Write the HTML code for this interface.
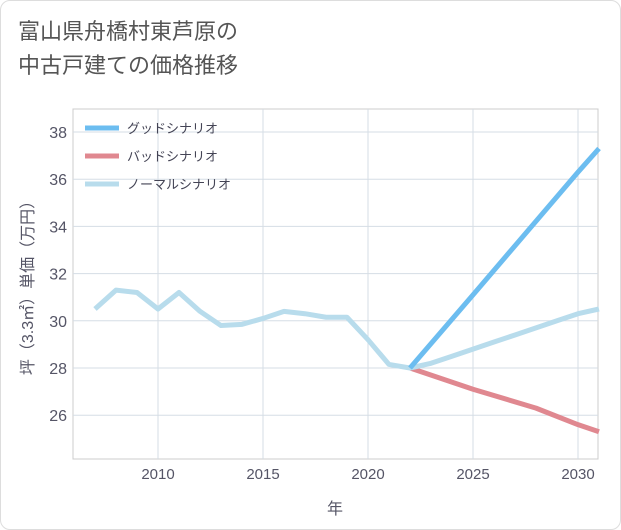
<!DOCTYPE html>
<html><head><meta charset="utf-8"><style>
body{margin:0;background:#fff;font-family:"Liberation Sans","Noto Sans CJK JP",sans-serif;}
#wrap{position:relative;width:619px;height:528px;border:1px solid #ddd;border-radius:10px;overflow:hidden;}
#title{position:absolute;left:17px;top:14px;font-size:22px;line-height:34px;color:#555;}
svg{position:absolute;left:0;top:0;}
</style></head><body>
<div id="wrap">
<div id="title">富山県舟橋村東芦原の<br>中古戸建ての価格推移</div>
<svg id="chart" width="621" height="530"></svg>
</div>
<script>
const years=[2007,2008,2009,2010,2011,2012,2013,2014,2015,2016,2017,2018,2019,2020,2021,2022,2023,2024,2025,2026,2027,2028,2029,2030,2031];
const normal=[30.5,31.3,31.2,30.5,31.2,30.4,29.8,29.85,30.1,30.4,30.3,30.15,30.15,29.2,28.15,28.0,28.2,28.5,28.8,29.1,29.4,29.7,30.0,30.3,30.5];
const goodYears=[2022,2025,2030,2031];
const good=[28.0,31.1,36.3,37.3];
const badYears=[2022,2025,2028,2030,2031];
const bad=[28.0,27.1,26.3,25.6,25.3];
const xTicks=[2010,2015,2020,2025,2030];
const yTicks=[26,28,30,32,34,36,38];
const legendLabels=["グッドシナリオ","バッドシナリオ","ノーマルシナリオ"];
const colors=["#6cbdf0","#e08890","#b8dcec"];
const L=72,R=597,T=108,B=458;
const x=v=>157+(v-2010)*21;
const y=v=>131+(38-v)*23.6;
const svg=document.getElementById('chart');
const NS='http://www.w3.org/2000/svg';
function mk(t,a){const e=document.createElementNS(NS,t);for(const k in a)e.setAttribute(k,a[k]);svg.appendChild(e);return e;}
const bg=mk('rect',{x:L,y:T,width:R-L,height:B-T,fill:'#fff',stroke:'#ccc'});


xTicks.forEach(t=>{
 const g=mk('line',{x1:x(t),x2:x(t),y1:T,y2:B,stroke:'#d5dde5'});
 
 
 const l=mk('text',{x:x(t),y:B+20,'text-anchor':'middle','font-size':15,fill:'#556'});
 l.textContent=t;
 
 
});
yTicks.forEach(t=>{
 const g=mk('line',{x1:L,x2:R,y1:y(t),y2:y(t),stroke:'#d5dde5'});
 
 
 const l=mk('text',{x:L-6,y:y(t)+6,'text-anchor':'end','font-size':16,fill:'#556'});
 l.textContent=t;
 
 
});
function line(xs,vs,c,name){
 const p=mk('polyline',{points:xs.map((v,i)=>x(v)+','+y(vs[i])).join(' '),fill:'none',stroke:c,'stroke-width':5,'stroke-linejoin':'round'});
 
 
}
line(badYears,bad,colors[1],'bad-scenario-line');
line(years,normal,colors[2],'normal-scenario-line');
line(goodYears,good,colors[0],'good-scenario-line');
legendLabels.forEach((s,i)=>{
 const ly=127+i*28;
 const m=mk('line',{x1:84,x2:118,y1:ly,y2:ly,stroke:colors[i],'stroke-width':5});
 
 
 const t=mk('text',{x:126,y:ly+5,'font-size':13,fill:'#445'});
 t.textContent=s;
 
 
});
const xt=mk('text',{x:334,y:513,'text-anchor':'middle','font-size':16,fill:'#556'});
xt.textContent='年';


const yt=mk('text',{x:0,y:0,'text-anchor':'middle','font-size':16,fill:'#556',transform:'translate(32,283) rotate(-90)'});
yt.textContent='坪（3.3㎡）単価（万円）';


</script>
</body></html>
